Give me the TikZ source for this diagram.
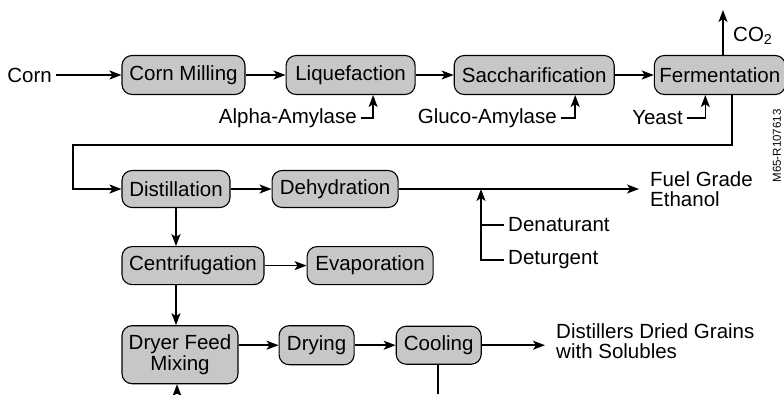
\documentclass[tikz,border=0pt]{standalone}
\usepackage{fontspec}
\setmainfont{Liberation Sans}
\usetikzlibrary{positioning,arrows.meta}

\begin{document}
\begin{tikzpicture}[x=1pt,y=-1pt,
            font=\fontsize{20.5}{20.5}\selectfont,
            stage/.style={draw, line width=1.1pt, rounded corners=10pt, fill=black!22,
                inner xsep=4pt, inner ysep=2pt, align=center},
            lbl/.style={inner sep=4pt},
            outlbl/.style={inner xsep=11pt, inner ysep=0pt, align=left, anchor=west},
            flow/.style={line width=1.5pt, -{Stealth[length=12pt,width=9pt,inset=3pt]}},
            link/.style={line width=1.5pt}]
            \useasboundingbox (0,0) rectangle (784,394);
                \node [stage, minimum width=123pt, minimum height=39pt] (mill) at (183.5,75) {Corn Milling};
                \node [stage, minimum width=129pt, minimum height=39pt, right=40pt of mill] (liq) {Liquefaction};
                \node [stage, minimum width=160pt, minimum height=39pt, right=38pt of liq] (sacc) {Saccharification};
                \node [stage, minimum width=131pt, minimum height=39pt, right=39pt of sacc] (ferm) {Fermentation};
                \node [lbl, anchor=east] (corn) at (56,75) {Corn};
                \node [lbl, anchor=east] (alpha) at (361,118) {Alpha-Amylase};
                \node [lbl, anchor=east] (gluco) at (561,118) {Gluco-Amylase};
                \node [lbl, anchor=east] (yeast) at (687,118) {Yeast};
                \node [lbl, anchor=west] (co2) at (729,36) {CO\textsubscript{2}};
                \coordinate (co2top) at (723,10);
                \coordinate (loopR) at (732,145);
                \coordinate (loopL) at (73,145);
                \node [stage, minimum width=108pt, minimum height=37pt] (dist) at (176,189) {Distillation};
                \node [stage, minimum width=126pt, minimum height=37pt, right=41pt of dist] (dehyd) {Dehydration};
                \node [outlbl] (fuel) at (639,189) {Fuel Grade\\Ethanol};
                \coordinate (join) at (481,189);
                \node [lbl, anchor=west] (denat) at (504,225) {Denaturant};
                \node [lbl, anchor=west] (detur) at (504,260) {Deturgent};
                \node [stage, minimum width=142pt, minimum height=38pt, below=38pt of dist.south west, anchor=north west] (centr) {Centrifugation};
                \node [stage, minimum width=126pt, minimum height=38pt, right=42pt of centr] (evap) {Evaporation};
                \node [stage, minimum width=116pt, minimum height=58pt, below=40pt of centr.south west, anchor=north west] (dfm) {Dryer Feed\\Mixing};
                \node [stage, minimum width=75pt, minimum height=39pt, right=40pt of dfm.north east, anchor=north west] (dry) {Drying};
                \node [stage, minimum width=85pt, minimum height=38pt, right=41pt of dry] (cool) {Cooling};
                \node [outlbl] (ddgs) at (545,341) {Distillers Dried Grains\\with Solubles};
                \coordinate (coolout) at (438,394);
                \coordinate (recyc) at (177,394);
                \node [rotate=90, inner sep=0pt, font=\fontsize{11.5}{12}\selectfont] (code) at (777,146) {M65-R107613};
            \draw [flow] (corn) -- (mill);
            \draw [flow] (mill) -- (liq);
            \draw [flow] (liq) -- (sacc);
            \draw [flow] (sacc) -- (ferm);
            \draw [flow] (alpha.east) -| ([xshift=22.5pt]liq.south);
            \draw [flow] (gluco.east) -| ([xshift=41pt]sacc.south);
            \draw [flow] (yeast.east) -| ([xshift=-14.5pt]ferm.south);
            \draw [flow] (ferm.north -| co2top) -- (co2top);
            \draw [flow] (ferm.south -| loopR) -- (loopR) -- (loopL) |- (dist);
            \draw [flow] (dist) -- (dehyd);
            \draw [flow] (dehyd.east) -- (dehyd.east -| fuel.west);
            \draw [flow] (detur.west) -| (join);
            \draw [link] (denat.west) -- (denat.west -| join);
            \draw [flow] (dist.south) -- (dist.south |- centr.north);
            \draw [flow] (centr) -- (evap);
            \draw [flow] (dist.south |- centr.south) -- (dist.south |- dfm.north);
            \draw [flow] (dfm.east |- dry.west) -- (dry.west);
            \draw [flow] (dry) -- (cool);
            \draw [flow] (cool.east) -- (cool.east -| ddgs.west);
            \draw [link] (cool.south -| coolout) -- (coolout);
            \draw [flow] (recyc) -- (recyc |- dfm.south);
        \end{tikzpicture}
\end{document}
